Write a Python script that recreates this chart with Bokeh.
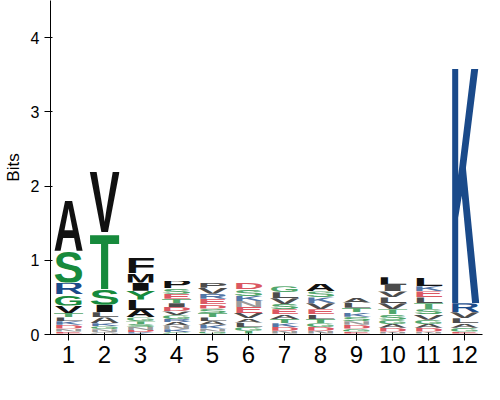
from urllib.parse import quote
from bokeh.plotting import figure
from bokeh.models import FixedTicker, ColumnDataSource
from bokeh.embed import file_html
from bokeh.resources import INLINE

positions = list(range(1, 13))
# letters of each stack, bottom to top, with their heights in bits
stack_letters = [
    ["E", "N", "D", "K", "L", "T", "V", "G", "R", "S", "A"],
    ["Q", "N", "G", "K", "A", "L", "I", "S", "T", "V"],
    ["K", "D", "N", "S", "T", "G", "A", "L", "Y", "I", "M", "F"],
    ["C", "K", "N", "A", "R", "G", "V", "D", "I", "T", "E", "S", "P"],
    ["G", "N", "K", "A", "L", "T", "S", "D", "E", "R", "V", "P"],
    ["T", "G", "L", "A", "V", "E", "N", "K", "S", "D"],
    ["N", "D", "K", "T", "A", "E", "S", "V", "L", "G"],
    ["N", "D", "G", "T", "L", "E", "V", "K", "S", "A"],
    ["E", "G", "D", "N", "S", "K", "T", "L", "A"],
    ["N", "D", "A", "G", "S", "T", "V", "L", "V", "I", "L"],
    ["N", "D", "A", "G", "V", "S", "T", "L", "E", "K", "L"],
    ["E", "G", "A", "L", "V", "R", "K"],
]
stack_heights = [
    [0.04, 0.04, 0.05, 0.05, 0.05, 0.06, 0.10, 0.15, 0.16, 0.43, 0.71],
    [0.03, 0.04, 0.04, 0.04, 0.08, 0.07, 0.10, 0.21, 0.77, 0.85],
    [0.03, 0.03, 0.04, 0.04, 0.04, 0.05, 0.10, 0.14, 0.12, 0.11, 0.13, 0.21],
    [0.03, 0.04, 0.05, 0.05, 0.04, 0.05, 0.05, 0.06, 0.05, 0.06, 0.07, 0.07, 0.10],
    [0.04, 0.04, 0.05, 0.05, 0.05, 0.06, 0.06, 0.06, 0.07, 0.07, 0.08, 0.07],
    [0.05, 0.05, 0.06, 0.06, 0.07, 0.08, 0.08, 0.07, 0.09, 0.09],
    [0.05, 0.05, 0.05, 0.06, 0.06, 0.07, 0.07, 0.08, 0.08, 0.08],
    [0.05, 0.05, 0.05, 0.06, 0.06, 0.07, 0.08, 0.08, 0.08, 0.10],
    [0.04, 0.04, 0.05, 0.05, 0.06, 0.06, 0.06, 0.07, 0.07],
    [0.04, 0.05, 0.05, 0.06, 0.07, 0.07, 0.08, 0.08, 0.08, 0.09, 0.10],
    [0.04, 0.05, 0.05, 0.06, 0.07, 0.07, 0.08, 0.08, 0.08, 0.07, 0.11],
    [0.04, 0.05, 0.06, 0.07, 0.08, 0.12, 3.35],
]

colors = {}
for c in "AVLIMFPW":
    colors[c] = "#111111"
for c in "STGYC":
    colors[c] = "#178a3c"
for c in "KRH":
    colors[c] = "#1a4a8a"
for c in "DE":
    colors[c] = "#d0202e"
for c in "NQ":
    colors[c] = "#7a7a7a"


def letter_url(letter, color):
    svg = ('<svg xmlns="http://www.w3.org/2000/svg" width="100" height="100" '
           'viewBox="0 0 100 100" preserveAspectRatio="none">'
           '<text x="0" y="100" textLength="100" lengthAdjust="spacingAndGlyphs" '
           'font-family="Liberation Sans" font-weight="bold" font-size="137" '
           f'fill="{color}">{letter}</text></svg>')
    return "data:image/svg+xml;charset=utf-8," + quote(svg)


p = figure(width=484, height=384, x_range=(0.5, 12.5), y_range=(0, 4.5),
           output_backend="svg", toolbar_location=None,
           min_border_left=37, min_border_right=2, min_border_top=0,
           min_border_bottom=50)
p.grid.visible = False
p.outline_line_color = None

for pos, letters, heights in zip(positions, stack_letters, stack_heights):
    base = 0.0
    for letter, h in zip(letters, heights):
        src = ColumnDataSource(dict(url=[letter_url(letter, colors[letter])],
                                    x=[pos - 0.42], y=[base], w=[0.84], h=[h]))
        p.image_url(url="url", x="x", y="y", w="w", h="h", anchor="bottom_left",
                    global_alpha=1.0 if h >= 0.1 else 0.75, source=src)
        base += h

p.yaxis.axis_label = "Bits"
p.yaxis.axis_label_text_font_style = "normal"
p.yaxis.axis_label_text_font = "Liberation Sans"
p.yaxis.axis_label_text_font_size = "17px"
p.yaxis.axis_label_text_color = "black"
p.yaxis.ticker = FixedTicker(ticks=[0, 1, 2, 3, 4])
p.yaxis.major_label_text_font_size = "16px"
p.yaxis.minor_tick_line_color = None
p.xaxis.ticker = FixedTicker(ticks=positions)
p.xaxis.major_label_text_font_size = "24px"
p.xaxis.minor_tick_line_color = None
p.axis.major_label_text_font = "Liberation Sans"
p.axis.major_label_text_color = "black"
p.axis.axis_line_color = "black"
p.axis.major_tick_line_color = "black"

open("out.html", "w").write(file_html(p, INLINE))
